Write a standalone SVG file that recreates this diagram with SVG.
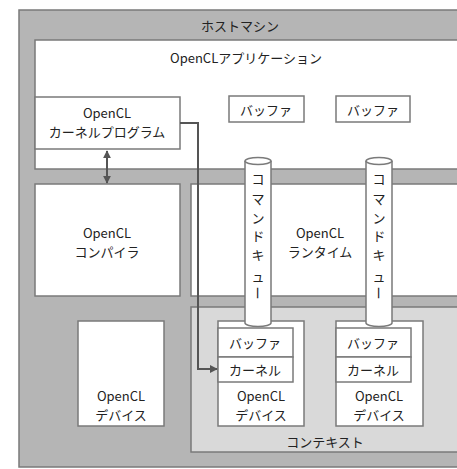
<svg xmlns="http://www.w3.org/2000/svg" width="457" height="469" viewBox="0 0 457 469">
<defs>
<style>
.box{fill:#fff;stroke:#7a7a7a;stroke-width:1.5}
.t{font-family:"Noto Sans CJK JP","Noto Sans",sans-serif;font-size:13px;fill:#222;text-anchor:middle;dominant-baseline:central}
.cyl{fill:#fff;stroke:#7a7a7a;stroke-width:1.5}
.conn{fill:none;stroke:#555;stroke-width:2}
</style>
<marker id="ah" viewBox="0 0 10 10" refX="9" refY="5" markerWidth="4" markerHeight="4" orient="auto-start-reverse">
<path d="M0,0 L10,5 L0,10 z" fill="#555"/>
</marker>
</defs>
<rect width="457" height="469" fill="#fff"/>
<g id="host">
<rect x="19" y="10" width="460" height="457" fill="#b5b5b5" stroke="#7a7a7a" stroke-width="1.5"/>
<text class="t" x="240" y="25">ホストマシン</text>
</g>
<g id="app">
<rect class="box" x="35" y="40" width="440" height="129"/>
<text class="t" x="246" y="57">OpenCLアプリケーション</text>
</g>
<g id="kernelprog">
<rect class="box" x="35" y="97" width="145" height="52"/>
<text class="t" x="107" y="112">OpenCL</text>
<text class="t" x="107" y="131">カーネルプログラム</text>
</g>
<g id="buf1">
<rect class="box" x="229" y="96" width="75" height="26"/>
<text class="t" x="266" y="109">バッファ</text>
</g>
<g id="buf2">
<rect class="box" x="336" y="96" width="74" height="26"/>
<text class="t" x="373" y="109">バッファ</text>
</g>
<g id="compiler">
<rect class="box" x="35" y="184" width="145" height="112"/>
<text class="t" x="107" y="232">OpenCL</text>
<text class="t" x="107" y="251">コンパイラ</text>
</g>
<g id="runtime">
<rect class="box" x="191" y="184" width="290" height="112"/>
<text class="t" x="320" y="232">OpenCL</text>
<text class="t" x="320" y="251">ランタイム</text>
</g>
<g id="context">
<rect x="191" y="307" width="290" height="145" fill="#d9d9d9" stroke="#7a7a7a" stroke-width="1.5"/>
<text class="t" x="325" y="441">コンテキスト</text>
</g>
<g id="device0">
<rect class="box" x="78" y="321" width="86" height="105"/>
<text class="t" x="121" y="395">OpenCL</text>
<text class="t" x="121" y="414">デバイス</text>
</g>
<g id="device1">
<rect class="box" x="218" y="321" width="86" height="105"/>
<rect class="box" x="218" y="328" width="75" height="29"/>
<text class="t" x="255" y="342">バッファ</text>
<rect class="box" x="218" y="357" width="75" height="25"/>
<text class="t" x="255" y="369">カーネル</text>
<text class="t" x="261" y="395">OpenCL</text>
<text class="t" x="261" y="414">デバイス</text>
</g>
<g id="device2">
<rect class="box" x="336" y="321" width="87" height="105"/>
<rect class="box" x="336" y="328" width="75" height="29"/>
<text class="t" x="373" y="342">バッファ</text>
<rect class="box" x="336" y="357" width="75" height="25"/>
<text class="t" x="373" y="369">カーネル</text>
<text class="t" x="379" y="395">OpenCL</text>
<text class="t" x="379" y="414">デバイス</text>
</g>
<g id="queue1">
<path class="cyl" d="M245,161 L245,323 A13,3.5 0 0 0 271,323 L271,161"/>
<ellipse class="cyl" cx="258" cy="161" rx="13" ry="3.5"/>
<text class="t" x="258" y="178">コ</text>
<text class="t" x="258" y="198">マ</text>
<text class="t" x="258" y="217">ン</text>
<text class="t" x="258" y="235">ド</text>
<text class="t" x="258" y="254">キ</text>
<text class="t" x="258" y="275">ュ</text>
<text class="t" transform="translate(258,293) rotate(90)" x="0" y="0">ー</text>
</g>
<g id="queue2">
<path class="cyl" d="M366,161 L366,323 A13,3.5 0 0 0 392,323 L392,161"/>
<ellipse class="cyl" cx="379" cy="161" rx="13" ry="3.5"/>
<text class="t" x="379" y="178">コ</text>
<text class="t" x="379" y="198">マ</text>
<text class="t" x="379" y="217">ン</text>
<text class="t" x="379" y="235">ド</text>
<text class="t" x="379" y="254">キ</text>
<text class="t" x="379" y="275">ュ</text>
<text class="t" transform="translate(379,293) rotate(90)" x="0" y="0">ー</text>
</g>
<g id="connectors">
<line class="conn" x1="107" y1="151" x2="107" y2="183" marker-start="url(#ah)" marker-end="url(#ah)"/>
<polyline class="conn" points="180,123 198,123 198,369 217,369" marker-end="url(#ah)"/>
</g>
</svg>
